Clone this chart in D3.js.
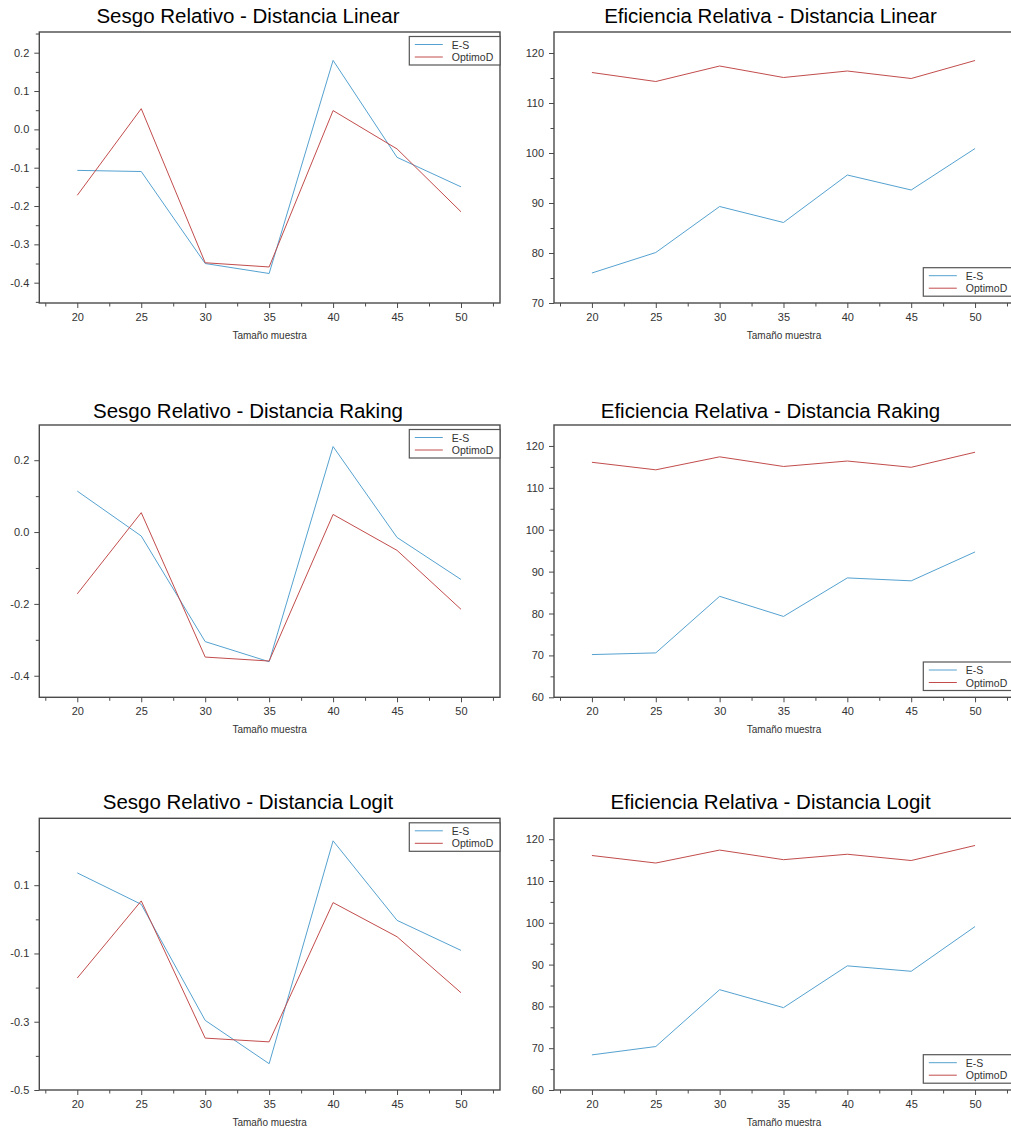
<!DOCTYPE html>
<html>
<head>
<meta charset="utf-8">
<script src="https://cdn.jsdelivr.net/npm/d3@7"></script>
<style>
  html, body { margin: 0; padding: 0; background: #fff; }
  svg { display: block; }
  text { font-family: "Liberation Sans", Arial, sans-serif; }
</style>
</head>
<body>
<svg id="chart" width="1011" height="1130"></svg>
<script>
// ---------- data ----------
const sampleSizes = [20, 25, 30, 35, 40, 45, 50];
const seriesNames = ["E-S", "OptimoD"];

const sesgoLinearES    = [-0.107, -0.110, -0.350, -0.376, 0.180, -0.073, -0.150];
const sesgoRakingES    = [0.114, -0.011, -0.305, -0.361, 0.238, -0.015, -0.132];
const sesgoLogitES     = [0.136, 0.044, -0.296, -0.423, 0.230, -0.003, -0.091];
const sesgoOptimoD     = [-0.172, 0.054, -0.348, -0.359, 0.049, -0.051, -0.215];

const eficLinearES     = [76.0, 80.1, 89.3, 86.1, 95.6, 92.6, 100.9];
const eficRakingES     = [70.2, 70.6, 84.1, 79.3, 88.5, 87.8, 94.7];
const eficLogitES      = [68.4, 70.4, 84.0, 79.7, 89.7, 88.4, 99.1];
const eficOptimoD      = [116.1, 114.3, 117.4, 115.1, 116.4, 114.9, 118.5];

const titles = [
  "Sesgo Relativo - Distancia Linear", "Eficiencia Relativa - Distancia Linear",
  "Sesgo Relativo - Distancia Raking", "Eficiencia Relativa - Distancia Raking",
  "Sesgo Relativo - Distancia Logit",  "Eficiencia Relativa - Distancia Logit"
];
const xAxisTitle = "Tamaño muestra";

// tick values (major labelled, minor unlabelled)
const xMajor = [20, 25, 30, 35, 40, 45, 50];
const xMinor = [17.5, 22.5, 27.5, 32.5, 37.5, 42.5, 47.5, 52.5];
const yMajorP1 = [-0.4, -0.3, -0.2, -0.1, 0.0, 0.1, 0.2];
const yMinorP1 = [-0.45, -0.35, -0.25, -0.15, -0.05, 0.05, 0.15, 0.25];
const yMajorP3 = [-0.4, -0.2, 0.0, 0.2];
const yMinorP3 = [-0.3, -0.1, 0.1];
const yMajorP5 = [-0.5, -0.3, -0.1, 0.1];
const yMinorP5 = [-0.4, -0.2, 0.0, 0.2];
const yMajorP2 = [70, 80, 90, 100, 110, 120];
const yMinorP2 = [75, 85, 95, 105, 115];
const yMajorP4 = [60, 70, 80, 90, 100, 110, 120];
const yMinorP4 = [65, 75, 85, 95, 105, 115];

// ---------- layout ----------
const colors = ["#55a2d0", "#c24c4c"];
const cols = [{x0: 39.3, x1: 500, titleX: 248}, {x0: 554, x1: 1014, titleX: 770.5}];
const rows = [{y0: 32, y1: 303, titleY: 15}, {y0: 425, y1: 697.3, titleY: 410}, {y0: 818.3, y1: 1090, titleY: 801.7}];
const xDomain = [17.03, 53.05];

const f1 = v => d3.format(".1f")(v).replace("\u2212", "-");
const f0 = v => d3.format("d")(v).replace("\u2212", "-");

const panels = [
  {r:0, c:0, yDom:[-0.453, 0.254], major:yMajorP1, minor:yMinorP1, fmt:f1, es:sesgoLinearES, op:sesgoOptimoD, legend:"top"},
  {r:0, c:1, yDom:[70, 124.2], major:yMajorP2, minor:yMinorP2, fmt:f0, es:eficLinearES, op:eficOptimoD, legend:"bottom"},
  {r:1, c:0, yDom:[-0.46, 0.298], major:yMajorP3, minor:yMinorP3, fmt:f1, es:sesgoRakingES, op:sesgoOptimoD, legend:"top"},
  {r:1, c:1, yDom:[60, 125], major:yMajorP4, minor:yMinorP4, fmt:f0, es:eficRakingES, op:eficOptimoD, legend:"bottom"},
  {r:2, c:0, yDom:[-0.5, 0.296], major:yMajorP5, minor:yMinorP5, fmt:f1, es:sesgoLogitES, op:sesgoOptimoD, legend:"top"},
  {r:2, c:1, yDom:[60, 125], major:yMajorP4, minor:yMinorP4, fmt:f0, es:eficLogitES, op:eficOptimoD, legend:"bottom"}
];

const svg = d3.select("#chart");
const axisColor = "#4a4a4a";
const textColor = "#333";

panels.forEach((p, i) => {
  const col = cols[p.c], row = rows[p.r];
  const x = d3.scaleLinear().domain(xDomain).range([col.x0, col.x1]);
  const y = d3.scaleLinear().domain(p.yDom).range([row.y1, row.y0]);
  const g = svg.append("g");

  // title
  g.append("text")
    .attr("x", col.titleX).attr("y", row.titleY)
    .attr("text-anchor", "middle").attr("dominant-baseline", "central")
    .attr("font-size", "20.5px").attr("fill", "#000")
    .text(titles[i]);

  // y axis: major
  g.append("g").attr("transform", `translate(${col.x0},0)`)
    .call(d3.axisLeft(y).tickValues(p.major).tickFormat(p.fmt).tickSize(5).tickPadding(5));
  // y axis minor
  g.append("g").attr("transform", `translate(${col.x0},0)`)
    .call(d3.axisLeft(y).tickValues(p.minor).tickFormat("").tickSize(3.5));

  // x axis
  g.append("g").attr("transform", `translate(0,${row.y1})`)
    .call(d3.axisBottom(x).tickValues(xMajor).tickFormat(f0).tickSize(5).tickPadding(5));
  g.append("g").attr("transform", `translate(0,${row.y1})`)
    .call(d3.axisBottom(x).tickValues(xMinor).tickFormat("").tickSize(3.5));

  g.selectAll(".domain").remove();
  g.selectAll(".tick line").attr("stroke", axisColor).attr("stroke-width", 1);
  g.selectAll(".tick text").attr("fill", textColor).attr("font-size", "11px")
    .attr("font-family", '"Liberation Sans", Arial, sans-serif');

  // frame
  g.append("rect")
    .attr("x", col.x0).attr("y", row.y0)
    .attr("width", col.x1 - col.x0).attr("height", row.y1 - row.y0)
    .attr("fill", "none").attr("stroke", axisColor).attr("stroke-width", 1.4);

  // x-axis title
  g.append("text")
    .attr("x", (col.x0 + col.x1) / 2).attr("y", row.y1 + 32)
    .attr("text-anchor", "middle").attr("dominant-baseline", "central")
    .attr("font-size", "10px").attr("fill", textColor)
    .text(xAxisTitle);

  // lines
  const line = d3.line().x((d, k) => x(sampleSizes[k])).y(d => y(d));
  [p.es, p.op].forEach((vals, s) => {
    g.append("path").datum(vals)
      .attr("d", line)
      .attr("fill", "none").attr("stroke", colors[s]).attr("stroke-width", 1);
  });

  // legend
  const lw = 90.7, lh = 28.5;
  const lx = col.x1 - lw;
  const ly = p.legend === "top" ? row.y0 + 4.5 : row.y1 - 6.8 - lh;
  const lg = g.append("g");
  lg.append("rect").attr("x", lx).attr("y", ly).attr("width", lw).attr("height", lh)
    .attr("fill", "#fff").attr("stroke", "#555").attr("stroke-width", 1.2);
  seriesNames.forEach((name, s) => {
    const yy = ly + 8 + s * 12.5;
    lg.append("line").attr("x1", lx + 5.5).attr("x2", lx + 33.5).attr("y1", yy).attr("y2", yy)
      .attr("stroke", colors[s]).attr("stroke-width", 1);
    lg.append("text").attr("x", lx + 42.5).attr("y", yy).attr("dominant-baseline", "central")
      .attr("font-size", "10.5px").attr("fill", textColor).text(name);
  });
});
</script>
</body>
</html>
